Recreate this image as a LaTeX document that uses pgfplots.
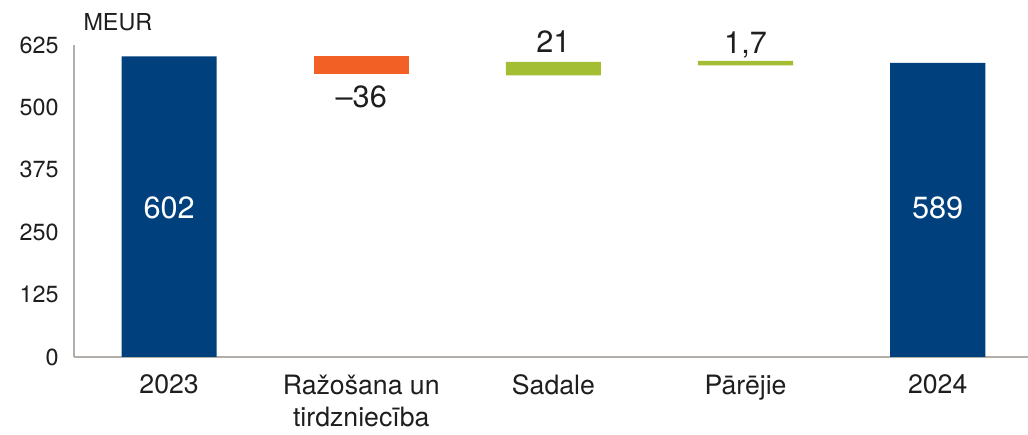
\documentclass[border=0pt]{standalone}
\usepackage{pgfplots}
\pgfplotsset{compat=1.18}
\usepackage{fontspec}
\setmainfont{TeX Gyre Heros}
\definecolor{navy}{RGB}{0,64,125}
\definecolor{orng}{RGB}{242,96,38}
\definecolor{lime}{RGB}{164,190,52}
\definecolor{axgray}{RGB}{178,174,170}
\definecolor{txt}{RGB}{30,30,30}
\begin{document}
\begin{tikzpicture}
\begin{axis}[
    name=ax,
    scale only axis,
    width=715.5pt, height=234pt,
    xmin=-0.495, xmax=4.47,
    ymin=0, ymax=625,
    ybar stacked,
    bar width=0.495,
    axis x line*=bottom, axis y line*=left,
    x axis line style={-, line width=2pt, color=axgray},
    y axis line style={-, line width=1pt, color=axgray},
    major tick length=0pt,
    ytick={0,125,250,375,500,625},
    xtick={0,1,2,3,4},
    xticklabels={2023, {Ražošana un\\tirdzniecība}, Sadale, Pārējie, 2024},
    xticklabel style={align=center, font=\fontsize{20}{24}\selectfont, text=txt, anchor=north, yshift=-10pt},
    yticklabel style={font=\fontsize{17.5}{21}\selectfont, text=txt, anchor=east, xshift=-8pt},
    /pgf/number format/assume math mode=true,
    /pgf/number format/1000 sep={},
    clip=false,
]
% invisible base for floating bars
\addplot[draw=none, fill=none] coordinates {(0,0) (1,566) (2,564) (3,584) (4,0)};
\addplot[draw=none, fill=navy] coordinates {(0,602) (1,0) (2,0) (3,0) (4,589)};
\addplot[draw=none, fill=orng] coordinates {(0,0) (1,36) (2,0) (3,0) (4,0)};
\addplot[draw=none, fill=lime] coordinates {(0,0) (1,0) (2,27) (3,9) (4,0)};

% labels
\coordinate (l0) at (axis cs:0,298);
\coordinate (l4) at (axis cs:4,298);
\node[txt, font=\fontsize{23}{27}\selectfont] at (axis cs:1,521) {–36};
\node[txt, font=\fontsize{23}{27}\selectfont] at (axis cs:2,631) {21};
\node[txt, font=\fontsize{23}{27}\selectfont] at (axis cs:3,625) {1,7};
\node[txt, anchor=west, font=\fontsize{17.5}{21}\selectfont] at (axis cs:-0.47,670) {MEUR};
\end{axis}
\node[white, font=\fontsize{23}{27}\selectfont] at (l0) {602};
\node[white, font=\fontsize{23}{27}\selectfont] at (l4) {589};
\pgfresetboundingbox
\path ([xshift=-55.5pt,yshift=-58.5pt]ax.south west) rectangle ([yshift=33.75pt]ax.north east);
\end{tikzpicture}
\end{document}
